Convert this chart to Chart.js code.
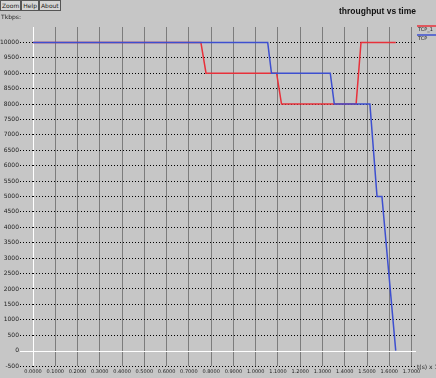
<!DOCTYPE html>
<html lang="en">
<head>
  <meta charset="UTF-8">
  <title>throughput vs time</title>
  <script src="https://cdn.jsdelivr.net/npm/chart.js@4.4.0/dist/chart.umd.min.js"></script>
  <style>
    body { margin: 0; background: #c6c6c6; }
    #wrap { position: relative; width: 436px; height: 378px; }
    .btns { position: absolute; left: 0; top: 0; display: flex; }
    .btns span {
      font: 6px "DejaVu Sans", sans-serif; color: #222;
      border: 1px solid #555; background: #d4d4d4;
      padding: 1px 1px; line-height: 7px; height: 7px;
    }
  </style>
</head>
<body>
  <div id="wrap">
    <canvas id="myChart" width="436" height="378"></canvas>
    <div class="btns"><span>Zoom</span><span>Help</span><span>About</span></div>
  </div>

  <script>
    // time in units of 10^3 s, throughput in kbps
    const tcp1Time = [0, 0.754, 0.777, 1.094, 1.116, 1.451, 1.473, 1.629];
    const tcp1Tput = [10000, 10000, 9000, 9000, 8000, 8000, 10000, 10000];
    const tcp2Time = [0, 1.054, 1.071, 1.335, 1.353, 1.513, 1.545, 1.567, 1.629];
    const tcp2Tput = [10000, 10000, 9000, 9000, 8000, 8000, 5000, 5000, 0];
    const xTicks = [0, 0.1, 0.2, 0.3, 0.4, 0.5, 0.6, 0.7, 0.8, 0.9, 1.0, 1.1, 1.2, 1.3, 1.4, 1.5, 1.6, 1.7];
    const yTicks = [10000, 9500, 9000, 8500, 8000, 7500, 7000, 6500, 6000, 5500, 5000,
                    4500, 4000, 3500, 3000, 2500, 2000, 1500, 1000, 500, 0, -500];

    const toPoints = (xs, ys) => xs.map((x, i) => ({x: x, y: ys[i]}));

    const extras = {
      id: 'extras',
      beforeDatasetsDraw(chart) {
        const ctx = chart.ctx;
        const y0 = Math.round(chart.scales.y.getPixelForValue(0)) + 0.5;
        ctx.save();
        ctx.strokeStyle = '#ffffff';
        ctx.lineWidth = 1;
        ctx.beginPath();
        ctx.moveTo(chart.chartArea.left - 13, y0);
        ctx.lineTo(chart.chartArea.right, y0);
        ctx.stroke();
        ctx.restore();
      },
      afterDraw(chart) {
        const ctx = chart.ctx;
        ctx.save();
        ctx.fillStyle = '#111';
        ctx.font = 'bold 8.5px "Liberation Sans", sans-serif';
        ctx.textAlign = 'right';
        ctx.textBaseline = 'middle';
        ctx.fillText('throughput vs time', 416, 12);

        ctx.textAlign = 'left';
        ctx.font = '6px "DejaVu Sans", sans-serif';
        ctx.fillStyle = '#222';
        ctx.fillText('Tkbps:', 1, 17);
        ctx.fillText('t(s) x 10³', 417, 367);

        // legend at the right edge
        chart.data.datasets.forEach((ds, i) => {
          const y = 26 + i * 9;
          ctx.strokeStyle = ds.borderColor;
          ctx.lineWidth = 1.5;
          ctx.beginPath();
          ctx.moveTo(417, y);
          ctx.lineTo(436, y);
          ctx.stroke();
          ctx.fillStyle = '#222';
          ctx.font = '5px "DejaVu Sans", sans-serif';
          ctx.fillText(ds.label, 418, y + 4);
        });
        ctx.restore();
      }
    };

    const ctx = document.getElementById('myChart').getContext('2d');
    const myChart = new Chart(ctx, {
      type: 'line',
      data: {
        datasets: [{
          label: 'TCP_1',
          data: toPoints(tcp1Time, tcp1Tput),
          borderColor: '#e8303a',
          borderWidth: 1.5,
          pointRadius: 0,
          tension: 0,
          order: 2
        }, {
          label: 'TCP',
          data: toPoints(tcp2Time, tcp2Tput),
          borderColor: '#3d4fd0',
          borderWidth: 1.5,
          pointRadius: 0,
          tension: 0,
          order: 1
        }]
      },
      options: {
        responsive: false,
        animation: false,
        layout: { padding: { top: 27, right: 20, left: 0, bottom: 0 } },
        plugins: {
          legend: { display: false },
          title: { display: false },
          tooltip: { enabled: false }
        },
        scales: {
          x: {
            type: 'linear',
            min: 0,
            max: 1.72,
            afterBuildTicks: scale => { scale.ticks = xTicks.map(v => ({value: v})); },
            afterFit: scale => { scale.height = 12; },
            ticks: {
              callback: v => v.toFixed(4),
              font: { size: 5, family: 'DejaVu Sans' },
              color: '#222',
              maxRotation: 0,
              autoSkip: false,
              padding: 3
            },
            grid: {
              color: c => (c.tick && c.tick.value === 0) ? '#ffffff' : '#7c7c7c',
              lineWidth: 1,
              drawTicks: false
            },
            border: { display: false }
          },
          y: {
            min: -500,
            max: 10500,
            afterBuildTicks: scale => { scale.ticks = yTicks.map(v => ({value: v})); },
            afterFit: scale => { scale.width = 33; },
            ticks: {
              callback: v => String(v),
              font: { size: 6, family: 'DejaVu Sans' },
              color: '#222',
              padding: 1
            },
            grid: {
              color: c => (c.tick && c.tick.value === 0) ? 'rgba(0,0,0,0)' : '#000000',
              tickColor: c => (c.tick && c.tick.value === 0) ? 'rgba(0,0,0,0)' : '#000000',
              lineWidth: 1,
              tickLength: 13,
              tickBorderDash: [1, 2]
            },
            border: { display: false, dash: [1, 2] }
          }
        }
      },
      plugins: [extras]
    });
  </script>
</body>
</html>
